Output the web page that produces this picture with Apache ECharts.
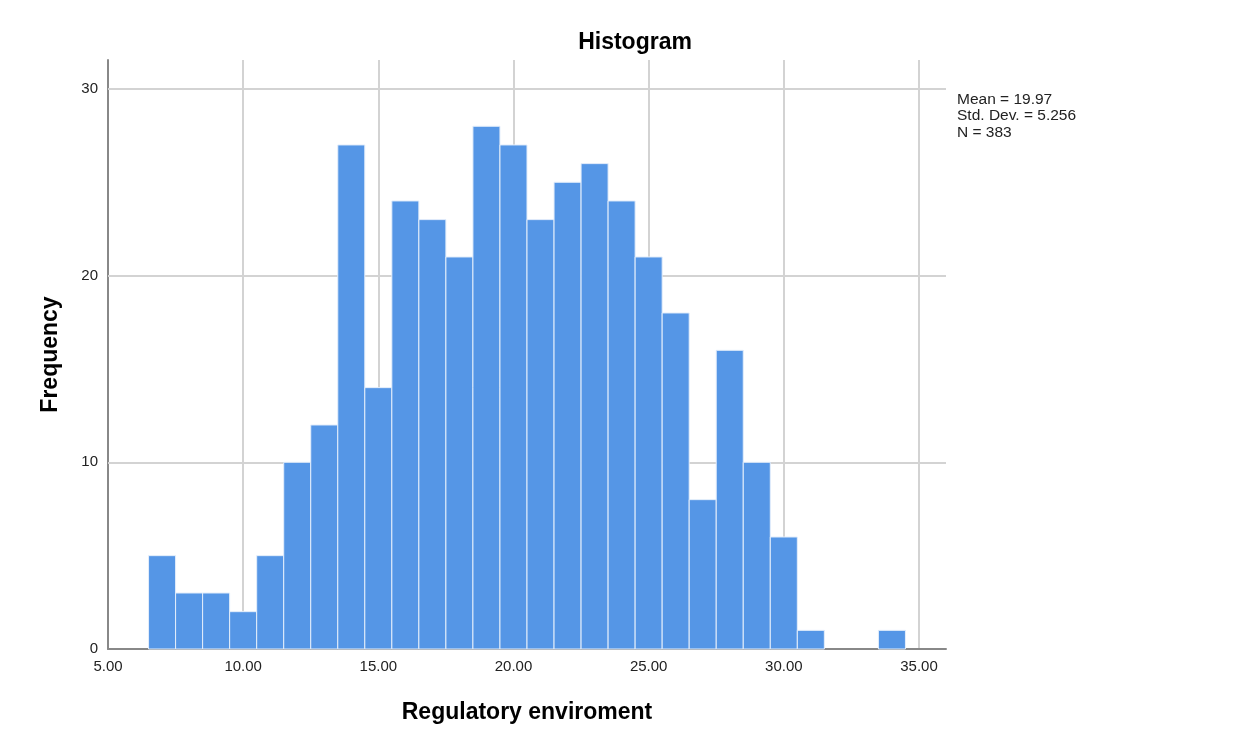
<!DOCTYPE html>
<html>
<head>
<meta charset="utf-8">
<script src="https://cdn.jsdelivr.net/npm/echarts@6/dist/echarts.min.js"></script>
<style>
html,body{margin:0;padding:0;background:#fff;}
#chart{width:1258px;height:738px;}
</style>
</head>
<body>
<div id="chart"></div>
<script>
// Bin centres (bin width 1) and frequencies
const binCenters = [7, 8, 9, 10, 11, 12, 13, 14, 15, 16, 17, 18, 19, 20, 21, 22, 23, 24, 25, 26, 27, 28, 29, 30, 31, 32, 33, 34];
const frequencies = [5, 3, 3, 2, 5, 10, 12, 27, 14, 24, 23, 21, 28, 27, 23, 25, 26, 24, 21, 18, 8, 16, 10, 6, 1, 0, 0, 1];
const binWidth = 1;
const statsLines = ['Mean = 19.97', 'Std. Dev. = 5.256', 'N = 383'];
const yGridValues = [10, 20, 30];

const FONT = '"Liberation Sans", Arial, sans-serif';
const chart = echarts.init(document.getElementById('chart'));

const data = binCenters.map((c, i) => [c, frequencies[i]]);

chart.setOption({
  animation: false,
  backgroundColor: '#ffffff',
  grid: { left: 108, right: 312, top: 60, bottom: 89, containLabel: false },
  xAxis: {
    type: 'value', min: 5, max: 36, interval: 5,
    name: 'Regulatory enviroment', nameLocation: 'middle', nameGap: 52,
    nameTextStyle: { fontFamily: FONT, fontSize: 23, fontWeight: 'bold', color: '#000' },
    axisLine: { show: true, lineStyle: { color: '#888', width: 2 } },
    axisTick: { show: false },
    axisLabel: { showMaxLabel: false, fontFamily: FONT, fontSize: 15, color: '#222', margin: 10,
      formatter: v => v.toFixed(2) },
    splitLine: { show: true, showMinLine: false, showMaxLine: false, lineStyle: { color: '#d3d3d3', width: 2 } }
  },
  yAxis: {
    type: 'value', min: 0, max: 31.55, interval: 10,
    name: 'Frequency', nameLocation: 'middle', nameGap: 46, nameRotate: 90,
    nameTextStyle: { fontFamily: FONT, fontSize: 23, fontWeight: 'bold', color: '#000' },
    axisLine: { show: true, lineStyle: { color: '#888', width: 2 } },
    axisTick: { show: false },
    axisLabel: { showMaxLabel: false, fontFamily: FONT, fontSize: 15, color: '#222', margin: 10,
      verticalAlign: 'middle', padding: [7, 0, 0, 0] },
    splitLine: { show: false }
  },
  graphic: [
    {
      type: 'text', x: 635, y: 31,
      style: { text: 'Histogram', font: 'bold 23px ' + FONT, fill: '#000', align: 'center', verticalAlign: 'top' }
    },
    {
      type: 'text', left: 957, top: 91,
      style: { text: statsLines.join('\n'), font: '15.5px ' + FONT, fill: '#222', lineHeight: 16.5 }
    }
  ],
  series: [
    {
      type: 'line', data: [], z: 1, silent: true,
      markLine: {
        z: 1, silent: true, symbol: 'none', label: { show: false },
        lineStyle: { color: '#d3d3d3', width: 2, type: 'solid' },
        data: yGridValues.map(v => ({ yAxis: v }))
      }
    },
    {
      type: 'custom', z: 3,
      data: data,
      renderItem: function (params, api) {
        const c = api.value(0), f = api.value(1);
        if (f <= 0) return null;
        const p0 = api.coord([c - binWidth / 2, f]);
        const p1 = api.coord([c + binWidth / 2, 0]);
        return {
          type: 'rect',
          shape: { x: p0[0], y: p0[1], width: p1[0] - p0[0], height: p1[1] - p0[1] },
          style: { fill: '#5596e6', stroke: '#e4eefb', lineWidth: 1 }
        };
      },
      encode: { x: 0, y: 1 }
    }
  ]
});
</script>
</body>
</html>
